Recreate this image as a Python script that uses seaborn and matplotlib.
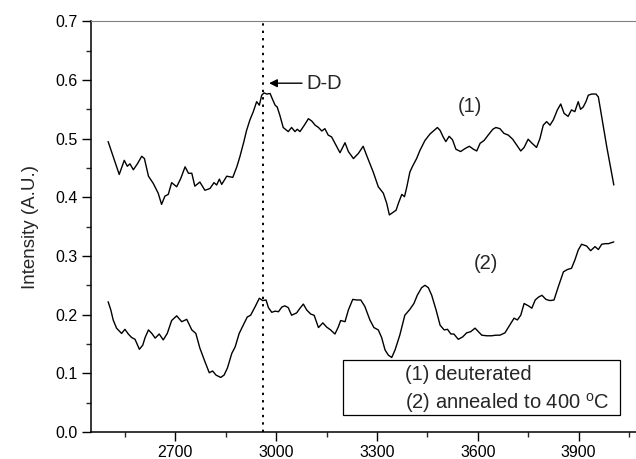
import numpy as np
import pandas as pd
import matplotlib
matplotlib.use("Agg")
import matplotlib.pyplot as plt
from matplotlib.ticker import MultipleLocator
from matplotlib.patches import Rectangle
import seaborn as sns

# ---- data ----
wn1 = [2500, 2533, 2548, 2557, 2565, 2575, 2587, 2600, 2608, 2620, 2634, 2649, 2659, 2669, 2679,
       2689, 2704, 2716, 2729, 2739, 2749, 2758, 2773, 2788, 2803, 2815, 2823, 2831, 2838, 2853,
       2871, 2883, 2892, 2904, 2912, 2922, 2932, 2942, 2950, 2957, 2964, 2972, 2982, 2990, 2997,
       3003, 3011, 3021, 3036, 3046, 3056, 3063, 3071, 3084, 3096, 3106, 3116, 3126, 3136, 3145,
       3155, 3165, 3180, 3190, 3205, 3215, 3230, 3245, 3259, 3271, 3289, 3304, 3319, 3329, 3337,
       3347, 3357, 3364, 3374, 3382, 3389, 3398, 3406, 3418, 3428, 3443, 3458, 3470, 3480, 3488,
       3497, 3505, 3515, 3525, 3535, 3549, 3562, 3575, 3587, 3597, 3607, 3619, 3631, 3645, 3654,
       3666, 3678, 3691, 3704, 3716, 3728, 3738, 3750, 3760, 3775, 3785, 3795, 3805, 3815, 3825,
       3837, 3847, 3857, 3869, 3879, 3889, 3899, 3906, 3914, 3922, 3929, 3939, 3952, 3959, 3969,
       3984, 4005]
int1 = [0.495, 0.439, 0.463, 0.453, 0.457, 0.447, 0.457, 0.470, 0.466, 0.436, 0.424, 0.407, 0.388, 0.402, 0.405,
        0.425, 0.418, 0.432, 0.452, 0.441, 0.441, 0.419, 0.426, 0.412, 0.415, 0.425, 0.421, 0.431, 0.422, 0.436,
        0.434, 0.452, 0.469, 0.495, 0.514, 0.532, 0.546, 0.563, 0.557, 0.574, 0.578, 0.576, 0.577, 0.566, 0.557,
        0.554, 0.540, 0.519, 0.512, 0.519, 0.512, 0.516, 0.512, 0.523, 0.534, 0.530, 0.523, 0.519, 0.513, 0.517,
        0.506, 0.503, 0.487, 0.476, 0.493, 0.478, 0.466, 0.475, 0.487, 0.469, 0.443, 0.418, 0.407, 0.390, 0.370,
        0.374, 0.378, 0.390, 0.405, 0.401, 0.418, 0.443, 0.453, 0.466, 0.480, 0.497, 0.508, 0.514, 0.519, 0.514,
        0.503, 0.495, 0.504, 0.498, 0.482, 0.478, 0.483, 0.487, 0.482, 0.479, 0.492, 0.497, 0.506, 0.516, 0.519,
        0.517, 0.509, 0.506, 0.499, 0.489, 0.479, 0.485, 0.499, 0.493, 0.485, 0.500, 0.523, 0.529, 0.523, 0.532,
        0.549, 0.559, 0.543, 0.538, 0.549, 0.546, 0.563, 0.550, 0.554, 0.563, 0.574, 0.576, 0.576, 0.571, 0.537,
        0.486, 0.421]

wn2 = [2500, 2508, 2515, 2525, 2540, 2550, 2560, 2570, 2580, 2593, 2603, 2610, 2620, 2630, 2640,
       2652, 2664, 2676, 2689, 2704, 2719, 2734, 2749, 2761, 2773, 2788, 2801, 2811, 2821, 2835,
       2845, 2855, 2868, 2878, 2890, 2902, 2914, 2924, 2937, 2950, 2960, 2970, 2977, 2987, 2997,
       3007, 3017, 3026, 3036, 3046, 3061, 3071, 3081, 3091, 3103, 3113, 3126, 3139, 3150, 3162,
       3175, 3185, 3192, 3205, 3215, 3228, 3240, 3252, 3264, 3279, 3291, 3304, 3314, 3324, 3334,
       3344, 3354, 3368, 3383, 3398, 3410, 3420, 3433, 3443, 3453, 3463, 3476, 3488, 3500, 3510,
       3520, 3529, 3542, 3555, 3567, 3579, 3592, 3602, 3612, 3627, 3641, 3654, 3666, 3681, 3694,
       3708, 3718, 3728, 3738, 3751, 3761, 3771, 3781, 3791, 3803, 3815, 3827, 3840, 3855, 3867,
       3879, 3889, 3899, 3909, 3924, 3936, 3949, 3959, 3969, 3979, 3989, 4005]
int2 = [0.222, 0.208, 0.191, 0.177, 0.168, 0.175, 0.167, 0.161, 0.158, 0.141, 0.148, 0.161, 0.174, 0.168, 0.160,
        0.167, 0.157, 0.168, 0.190, 0.198, 0.188, 0.192, 0.174, 0.168, 0.143, 0.120, 0.101, 0.104, 0.097, 0.093,
        0.097, 0.109, 0.134, 0.145, 0.168, 0.182, 0.196, 0.199, 0.213, 0.228, 0.224, 0.225, 0.212, 0.204, 0.206,
        0.205, 0.213, 0.215, 0.212, 0.199, 0.203, 0.211, 0.218, 0.208, 0.201, 0.199, 0.178, 0.186, 0.179, 0.174,
        0.167, 0.179, 0.190, 0.188, 0.208, 0.226, 0.225, 0.225, 0.214, 0.191, 0.178, 0.174, 0.161, 0.140, 0.131,
        0.127, 0.140, 0.165, 0.199, 0.209, 0.219, 0.233, 0.246, 0.250, 0.246, 0.233, 0.208, 0.182, 0.174, 0.175,
        0.167, 0.167, 0.158, 0.162, 0.169, 0.171, 0.177, 0.171, 0.165, 0.164, 0.164, 0.165, 0.165, 0.169, 0.181,
        0.194, 0.191, 0.199, 0.219, 0.215, 0.211, 0.225, 0.230, 0.233, 0.226, 0.224, 0.225, 0.248, 0.273, 0.277,
        0.279, 0.293, 0.310, 0.320, 0.317, 0.309, 0.316, 0.311, 0.320, 0.321, 0.321, 0.324]

series_names = ["(1) deuterated", "(2) annealed to 400 $^{\\mathregular{o}}$C"]
curve_labels = ["(1)", "(2)"]
dd_position = 2960
dd_label = "D-D"
x_ticks = [2700, 3000, 3300, 3600, 3900]
y_ticks = [0.0, 0.1, 0.2, 0.3, 0.4, 0.5, 0.6, 0.7]

df = pd.concat([
    pd.DataFrame({"wn": wn1, "I": int1, "s": "1"}),
    pd.DataFrame({"wn": wn2, "I": int2, "s": "2"}),
])

# ---- style ----
sns.set_style("ticks")
plt.rcParams["font.family"] = ["Liberation Sans", "DejaVu Sans"]
plt.rcParams["mathtext.fontset"] = "custom"
plt.rcParams["mathtext.rm"] = "Liberation Sans"

fig = plt.figure(figsize=(6.36, 4.59), dpi=100)
ax = fig.add_axes([91 / 636, 27 / 459, 545 / 636, 410.7 / 459])

sns.lineplot(data=df, x="wn", y="I", units="s", estimator=None, color="black",
             linewidth=1.0, ax=ax, sort=False)

ax.set_xlim(2449, 4071)
ax.set_ylim(0, 0.7)
ax.set_xticks(x_ticks)
ax.set_yticks(y_ticks)
ax.set_yticklabels([f"{v:.1f}" for v in y_ticks])
ax.xaxis.set_minor_locator(MultipleLocator(150))
ax.yaxis.set_minor_locator(MultipleLocator(0.05))
ax.tick_params(which="major", direction="out", length=6.5, width=1.0, labelsize=11.5,
               colors="black", pad=3)
ax.tick_params(which="minor", direction="out", length=3.5, width=1.0)
ax.set_xlabel("")
ax.set_ylabel("Intensity (A.U.)", fontsize=13.5, labelpad=12)

for side in ["left", "bottom"]:
    ax.spines[side].set_color("black")
    ax.spines[side].set_linewidth(1.1)
ax.spines["top"].set_visible(True)
ax.spines["top"].set_color("#808080")
ax.spines["top"].set_linewidth(0.8)
ax.spines["right"].set_visible(False)

# dotted reference line
ax.axvline(dd_position, ymin=0.0, ymax=1.0, color="black", linestyle=(0, (1.2, 2.6)),
           linewidth=1.4)

# D-D annotation
ax.annotate("", xy=(2979, 0.5945), xytext=(3077, 0.5945),
            arrowprops=dict(arrowstyle="-|>", color="black", lw=1.0,
                            mutation_scale=12, shrinkA=0, shrinkB=0))
ax.text(3091, 0.5945, dd_label, fontsize=14.5, va="center", ha="left")

ax.text(3577, 0.554, curve_labels[0], fontsize=14.5, ha="center", va="center")
ax.text(3625, 0.288, curve_labels[1], fontsize=14.5, ha="center", va="center")

# legend box
ax.add_patch(Rectangle((0.462, 0.041), 0.509, 0.134, transform=ax.transAxes,
                       facecolor="white", edgecolor="black", linewidth=0.9, zorder=5))
ax.text(0.577, 0.139, series_names[0], transform=ax.transAxes, fontsize=14.5,
        va="center", ha="left", zorder=6)
ax.text(0.577, 0.0706, series_names[1], transform=ax.transAxes, fontsize=14.5,
        va="center", ha="left", zorder=6)

fig.savefig("out.png", dpi=100)
